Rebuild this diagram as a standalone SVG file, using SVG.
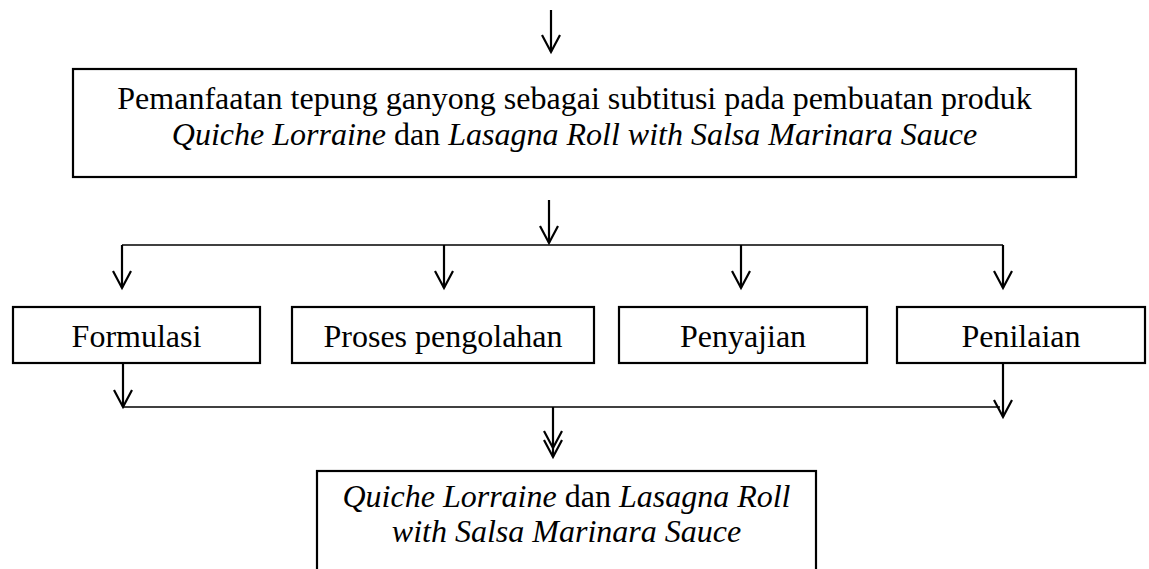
<svg xmlns="http://www.w3.org/2000/svg" width="1149" height="569" viewBox="0 0 1149 569">
  <defs>
    <marker id="arr" markerUnits="userSpaceOnUse" markerWidth="24" markerHeight="24" viewBox="-22 -12 24 24" refX="0" refY="0" orient="auto" overflow="visible">
      <path d="M-17,-9 L0,0 L-17,9" fill="none" stroke="#000" stroke-width="2.2"/>
    </marker>
  </defs>
  <style>
    .box { fill: #fff; stroke: #000; stroke-width: 2.2; }
    .t { font-family: "Liberation Serif", "Times New Roman", serif; font-size: 32px; fill: #000; text-anchor: middle; }
    .i { font-style: italic; }
    .ln { stroke: #000; stroke-width: 1.3; fill: none; }
    .ar { stroke: #000; stroke-width: 2.2; fill: none; marker-end: url(#arr); }
  </style>
  <rect width="1149" height="569" fill="#fff"/>

  <g id="connectors">
    <line class="ar" x1="551" y1="10" x2="551" y2="52"/>
    <line class="ar" x1="549" y1="200" x2="549" y2="243"/>
    <line class="ln" x1="122" y1="245" x2="1003" y2="245"/>
    <line class="ar" x1="122" y1="245" x2="122" y2="288"/>
    <line class="ar" x1="444" y1="245" x2="444" y2="288"/>
    <line class="ar" x1="741" y1="245" x2="741" y2="288"/>
    <line class="ar" x1="1003" y1="245" x2="1003" y2="288"/>
    <line class="ar" x1="123" y1="363" x2="123" y2="407"/>
    <line class="ar" x1="1003" y1="363" x2="1003" y2="417"/>
    <line class="ln" x1="123" y1="407" x2="1000" y2="407"/>
    <path class="ar" d="M553,407 L553,448 L553,457" style="marker-mid:url(#arr)"/>
  </g>

  <g id="node-main">
    <rect class="box" x="73" y="69" width="1003" height="108"/>
    <text class="t" x="574.5" y="109">Pemanfaatan tepung ganyong sebagai subtitusi pada pembuatan produk</text>
    <text class="t" x="574.5" y="145"><tspan class="i">Quiche Lorraine</tspan> dan <tspan class="i">Lasagna Roll with Salsa Marinara Sauce</tspan></text>
  </g>

  <g id="node-formulasi">
    <rect class="box" x="13" y="307" width="247" height="56"/>
    <text class="t" x="136.5" y="347">Formulasi</text>
  </g>
  <g id="node-proses">
    <rect class="box" x="292" y="307" width="302" height="56"/>
    <text class="t" x="443" y="347">Proses pengolahan</text>
  </g>
  <g id="node-penyajian">
    <rect class="box" x="619" y="307" width="248" height="56"/>
    <text class="t" x="743" y="347">Penyajian</text>
  </g>
  <g id="node-penilaian">
    <rect class="box" x="897" y="307" width="248" height="56"/>
    <text class="t" x="1021" y="347">Penilaian</text>
  </g>

  <g id="node-result">
    <rect class="box" x="317" y="471" width="499" height="110"/>
    <text class="t" x="566.5" y="507"><tspan class="i">Quiche Lorraine</tspan> dan <tspan class="i">Lasagna Roll</tspan></text>
    <text class="t i" x="566.5" y="542">with Salsa Marinara Sauce</text>
  </g>
</svg>
